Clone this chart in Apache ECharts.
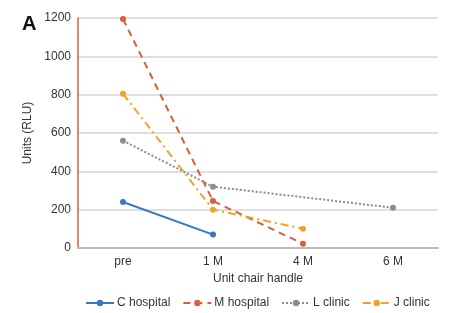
<!DOCTYPE html>
<html>
<head>
<meta charset="utf-8">
<script src="https://cdn.jsdelivr.net/npm/echarts@6/dist/echarts.min.js"></script>
<style>
  html, body { margin: 0; padding: 0; background: #fff; }
  #chart { width: 452px; height: 313px; }
</style>
</head>
<body>
<div id="chart"></div>
<script>
// categories (time points)
const categories = ['pre', '1 M', '4 M', '6 M']
const cHospital = [240, 70, null, null]
const mHospital = [1195, 245, 22, null]
const lClinic = [560, 320, null, 210]
const jClinic = [805, 200, 100, null]
const yTicks = [0, 200, 400, 600, 800, 1000, 1200]

const chart = echarts.init(document.getElementById('chart'))

const font = 'Liberation Sans, Arial, sans-serif'

function makeSeries(name, data, color, type, connect) {
  return {
    name: name,
    type: 'line',
    data: data,
    connectNulls: !!connect,
    symbol: 'circle',
    symbolSize: 6,
    itemStyle: { color: color },
    lineStyle: { color: color, width: 2, type: type }
  }
}

const option = {
  animation: false,
  textStyle: { fontFamily: font },
  graphic: [{
    type: 'text',
    left: 22,
    top: 14,
    style: { text: 'A', font: 'bold 20px ' + font, fill: '#111' }
  }],
  grid: { left: 78, right: 14, top: 18, bottom: 65 },
  legend: {
    bottom: -1,
    left: 80,
    itemWidth: 28,
    itemHeight: 8,
    itemGap: 12,
    textStyle: { fontSize: 12, color: '#333', fontFamily: font, padding: [0, 0, 0, -2] },
    data: ['C hospital', 'M hospital', 'L clinic', 'J clinic']
  },
  xAxis: {
    type: 'category',
    data: categories,
    boundaryGap: true,
    name: 'Unit chair handle',
    nameLocation: 'middle',
    nameGap: 24,
    nameTextStyle: { fontSize: 12, color: '#333' },
    axisLine: { lineStyle: { color: '#bbb', width: 2 } },
    axisTick: { show: false },
    axisLabel: { fontSize: 12, color: '#333', margin: 8 }
  },
  yAxis: {
    type: 'value',
    min: yTicks[0],
    max: yTicks[yTicks.length - 1],
    interval: 200,
    name: 'Units (RLU)',
    nameLocation: 'middle',
    nameGap: 44,
    nameTextStyle: { fontSize: 12, color: '#333' },
    axisLine: { show: true, lineStyle: { color: '#d9603a', width: 1.5 } },
    axisTick: { show: false },
    axisLabel: { fontSize: 12, color: '#333', margin: 7, formatter: function (v) { return String(v) } },
    splitLine: { lineStyle: { color: '#d4d4d4', width: 1.5 } }
  },
  series: [
    makeSeries('C hospital', cHospital, '#3a78b8', 'solid'),
    makeSeries('M hospital', mHospital, '#d9603a', [7, 5]),
    makeSeries('L clinic', lClinic, '#8c8c8c', [2, 2], true),
    makeSeries('J clinic', jClinic, '#eca42a', [8, 4, 2, 4])
  ]
}

chart.setOption(option)
</script>
</body>
</html>
